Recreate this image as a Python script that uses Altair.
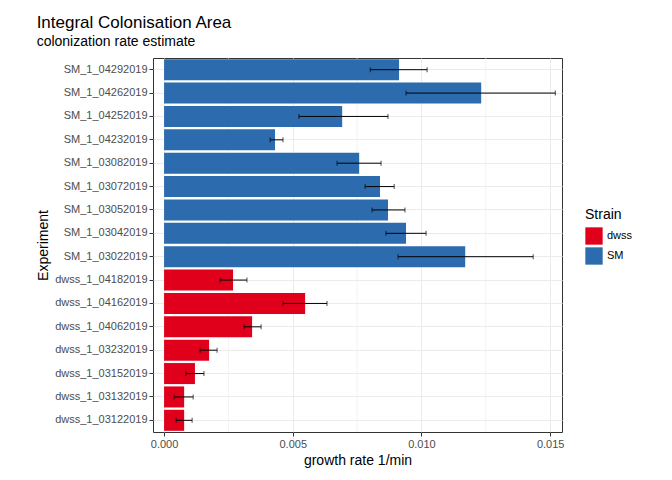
import altair as alt
import pandas as pd

experiments = ["SM_1_04292019", "SM_1_04262019", "SM_1_04252019", "SM_1_04232019",
               "SM_1_03082019", "SM_1_03072019", "SM_1_03052019", "SM_1_03042019",
               "SM_1_03022019", "dwss_1_04182019", "dwss_1_04162019", "dwss_1_04062019",
               "dwss_1_03232019", "dwss_1_03152019", "dwss_1_03132019", "dwss_1_03122019"]
strains = ["SM"] * 9 + ["dwss"] * 7
rate = [0.00913, 0.01232, 0.00692, 0.00431, 0.00758, 0.00839, 0.0087, 0.0094, 0.0117,
        0.00268, 0.00548, 0.00342, 0.00175, 0.0012, 0.00078, 0.00078]
low = [0.00801, 0.0094, 0.00524, 0.00412, 0.00672, 0.00781, 0.00808, 0.00862, 0.00909,
       0.00218, 0.00462, 0.00311, 0.0014, 0.00085, 0.00039, 0.00047]
high = [0.01022, 0.0152, 0.0087, 0.00462, 0.00843, 0.00894, 0.00936, 0.01018, 0.01434,
        0.00322, 0.00633, 0.00377, 0.00206, 0.00155, 0.00113, 0.00109]
minor_grid = [0.0025, 0.0075, 0.0125]

df = pd.DataFrame({"Experiment": experiments, "Strain": strains, "rate": rate,
                   "low": low, "high": high})

xscale = alt.Scale(domain=[-0.00043, 0.01546], nice=False, zero=False)
yenc = alt.Y("Experiment:N", sort=experiments, title="Experiment",
             scale=alt.Scale(paddingInner=0.1, paddingOuter=0.05))

minor = alt.Chart(pd.DataFrame({"v": minor_grid})).mark_rule(
    color="#ebebeb", strokeWidth=0.6).encode(x=alt.X("v:Q", scale=xscale))

bars = alt.Chart(df).mark_bar().encode(
    x=alt.X("rate:Q", scale=xscale, title="growth rate 1/min",
            axis=alt.Axis(values=[0, 0.005, 0.01, 0.015], format=".3f")),
    y=yenc,
    color=alt.Color("Strain:N", scale=alt.Scale(domain=["dwss", "SM"],
                                                range=["#e0001b", "#2b6bae"]),
                    legend=alt.Legend(symbolType="square", symbolSize=300,
                                      symbolStrokeWidth=0, symbolOpacity=1,
                                      orient="none", legendX=432, legendY=150)),
)

err = alt.Chart(df).mark_errorbar(ticks=alt.MarkConfig(size=5, color="black"),
                                  color="black", thickness=1).encode(
    x=alt.X("low:Q", scale=xscale, title="growth rate 1/min"),
    x2="high:Q",
    y=yenc,
)

chart = alt.layer(minor, bars, err).properties(
    width=409, height=374,
    padding={"left": 28, "top": 5, "right": 5, "bottom": 5},
    title=alt.Title("Integral Colonisation Area", subtitle="colonization rate estimate",
                    anchor="start", fontSize=17, subtitleFontSize=14,
                    fontWeight="normal", font="Liberation Sans",
                    subtitleFont="Liberation Sans", color="black",
                    subtitleColor="black", offset=8),
).configure_view(stroke="#333333", strokeWidth=1).configure_axis(
    labelFont="Liberation Sans", titleFont="Liberation Sans", labelFontSize=11,
    titleFontSize=14, titleFontWeight="normal", labelColor="#4d4d4d",
    titleColor="black", gridColor="#ebebeb", domain=False, tickColor="#333333",
    tickSize=4,
).configure_legend(
    titleFont="Liberation Sans", labelFont="Liberation Sans", titleFontSize=14,
    labelFontSize=11, titleFontWeight="normal",
).configure_axisY(grid=True)

chart.save("out.html", embed_options={"renderer": "svg", "actions": False})
